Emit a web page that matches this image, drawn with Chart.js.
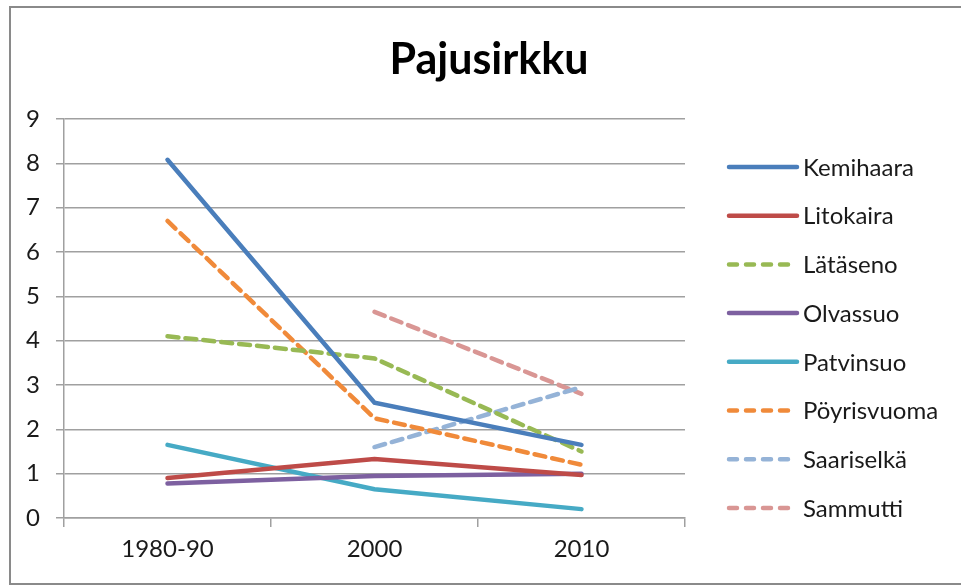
<!DOCTYPE html>
<html>
<head>
<meta charset="utf-8">
<script src="https://cdn.jsdelivr.net/npm/chart.js@4.4.0/dist/chart.umd.min.js"></script>
<style>
  html, body { margin: 0; padding: 0; background: #fff; }
  #wrap { width: 961px; height: 588px; position: relative; }
</style>
</head>
<body>
<div id="wrap"><canvas id="c" width="961" height="588"></canvas></div>
<script>
// data
const categories = ['1980-90', '2000', '2010'];
const yTicks = [0, 1, 2, 3, 4, 5, 6, 7, 8, 9];

const kemihaara   = [8.08, 2.6, 1.65];
const litokaira   = [0.9, 1.33, 0.97];
const lataseno    = [4.1, 3.6, 1.5];
const olvassuo    = [0.78, 0.95, 1.0];
const patvinsuo   = [1.65, 0.65, 0.2];
const poyrisvuoma = [6.7, 2.25, 1.2];
const saariselka  = [null, 1.6, 2.95];
const sammutti    = [null, 4.65, 2.8];

const FONT = 'Lato';

const mk = (label, data, color, dashed) => ({
  label, data,
  borderColor: color,
  backgroundColor: color,
  borderWidth: 4.5,
  borderDash: dashed ? [11, 7] : [],
  borderCapStyle: 'round',
  pointRadius: 0,
  pointHoverRadius: 0,
  tension: 0,
  spanGaps: false
});

const datasets = [
  mk('Kemihaara', kemihaara, '#4a7ebb', false),
  mk('Litokaira', litokaira, '#be4b48', false),
  mk('Lätäseno', lataseno, '#98b954', true),
  mk('Olvassuo', olvassuo, '#7d60a0', false),
  mk('Patvinsuo', patvinsuo, '#46aac5', false),
  mk('Pöyrisvuoma', poyrisvuoma, '#f08a3a', true),
  mk('Saariselkä', saariselka, '#95b3d7', true),
  mk('Sammutti', sammutti, '#d99694', true)
];

// draws frame, title and legend
const deco = {
  id: 'deco',
  afterDraw(chart) {
    const ctx = chart.ctx;
    ctx.save();
    // frame
    ctx.strokeStyle = '#8a8a8a';
    ctx.lineWidth = 2;
    ctx.beginPath();
    ctx.moveTo(961, 7);
    ctx.lineTo(10, 7);
    ctx.lineTo(10, 584);
    ctx.lineTo(961, 584);
    ctx.stroke();

    // title
    ctx.fillStyle = '#000';
    ctx.font = 'bold 43px ' + FONT;
    ctx.textAlign = 'center';
    ctx.textBaseline = 'alphabetic';
    ctx.fillText('Pajusirkku', 489, 74);

    // legend
    ctx.font = '24px ' + FONT;
    ctx.textAlign = 'left';
    ctx.textBaseline = 'middle';
    chart.data.datasets.forEach((ds, i) => {
      const y = 167 + i * 48.7;
      ctx.strokeStyle = ds.borderColor;
      ctx.lineWidth = 4.5;
      ctx.lineCap = 'round';
      ctx.setLineDash(ds.borderDash.length ? [8, 9] : []);
      ctx.beginPath();
      ctx.moveTo(729, y);
      ctx.lineTo(797, y);
      ctx.stroke();
      ctx.setLineDash([]);
      ctx.fillStyle = '#1a1a1a';
      ctx.fillText(ds.label, 803, y + 1);
    });
    ctx.restore();
  }
};

new Chart(document.getElementById('c'), {
  type: 'line',
  data: { labels: categories, datasets },
  options: {
    responsive: false,
    animation: false,
    layout: { padding: { left: 0, right: 276, top: 119, bottom: 10 } },
    plugins: { legend: { display: false }, tooltip: { enabled: false }, title: { display: false } },
    scales: {
      x: {
        offset: true,
        grid: {
          offset: true,
          drawOnChartArea: false,
          color: '#a0a0a0',
          tickLength: 9,
          lineWidth: 1.5
        },
        border: { color: '#a0a0a0', width: 1.5 },
        ticks: { color: '#1a1a1a', font: { family: FONT, size: 24 }, padding: 8 },
        afterFit(s) { s.height = 60; }
      },
      y: {
        min: 0, max: 9,
        afterBuildTicks(s) { s.ticks = yTicks.map(v => ({ value: v })); },
        grid: { color: '#a0a0a0', lineWidth: 1.5, tickLength: 8 },
        border: { color: '#a0a0a0', width: 1.5 },
        ticks: { color: '#1a1a1a', font: { family: FONT, size: 24 }, padding: 16 },
        afterFit(s) { s.width = 64; }
      }
    }
  },
  plugins: [deco]
});
</script>
</body>
</html>
